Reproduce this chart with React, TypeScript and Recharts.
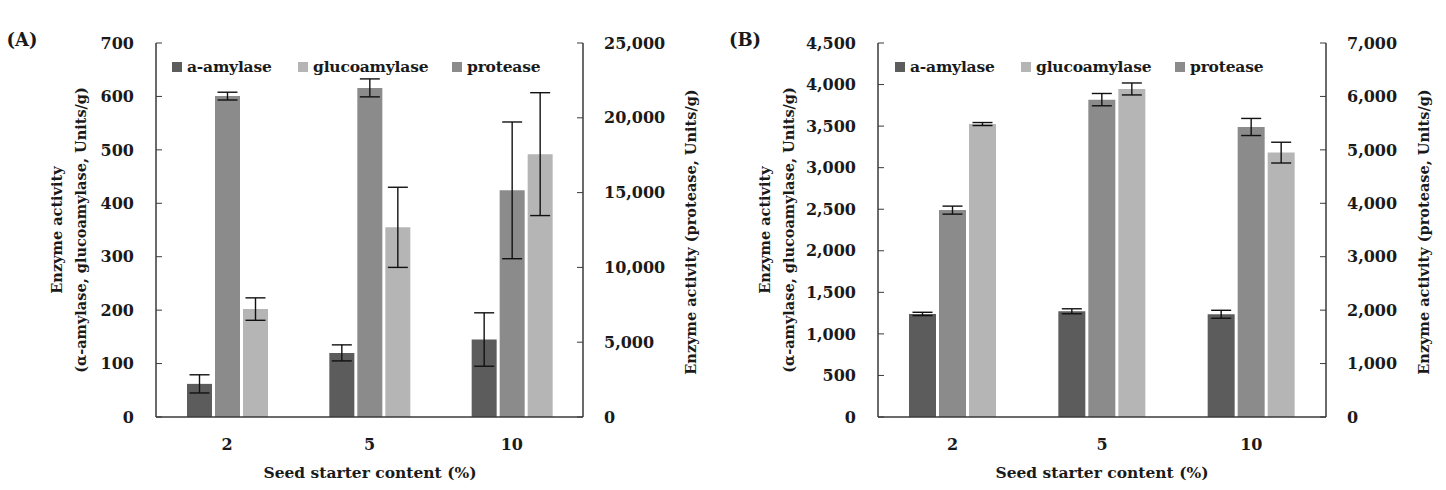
import { BarChart, Bar, XAxis, YAxis, ErrorBar, Legend } from "recharts";

// ─── Data ─────────────────────────────────────────────────────────────────────

const contents = ["2", "5", "10"];

// (A)
const amylaseA = [62, 120, 145];
const amylaseErrA = [17, 15, 50];
const glucoA = [202, 355, 492];
const glucoErrA = [21, 75, 115];
const proteaseA = [21450, 22000, 15150];
const proteaseErrA = [260, 600, 4570];

// (B)
const amylaseB = [1240, 1272, 1236];
const amylaseErrB = [20, 30, 48];
const glucoB = [3525, 3947, 3181];
const glucoErrB = [18, 72, 125];
const proteaseB = [3872, 5940, 5428];
const proteaseErrB = [75, 115, 160];

const leftTicksA = [0, 100, 200, 300, 400, 500, 600, 700];
const rightTicksA = [0, 5000, 10000, 15000, 20000, 25000];
const leftTicksB = [0, 500, 1000, 1500, 2000, 2500, 3000, 3500, 4000, 4500];
const rightTicksB = [0, 1000, 2000, 3000, 4000, 5000, 6000, 7000];

const DARK = "#5c5c5c";
const MID = "#8b8b8b";
const LIGHT = "#b5b5b5";
const AXIS = "#3a3a3a";
const FONT = "'DejaVu Serif', serif";

const legendItems = [
  { name: "a-amylase", color: DARK, width: 126 },
  { name: "glucoamylase", color: LIGHT, width: 154 },
  { name: "protease", color: MID, width: 100 },
];

function buildRows(
  amylase: number[], amylaseErr: number[],
  gluco: number[], glucoErr: number[],
  protease: number[], proteaseErr: number[],
) {
  return contents.map((c, i) => ({
    content: c,
    amylase: amylase[i],
    amylaseErr: amylaseErr[i],
    gluco: gluco[i],
    glucoErr: glucoErr[i],
    protease: protease[i],
    proteaseErr: proteaseErr[i],
  }));
}

const dataA = buildRows(amylaseA, amylaseErrA, glucoA, glucoErrA, proteaseA, proteaseErrA);
const dataB = buildRows(amylaseB, amylaseErrB, glucoB, glucoErrB, proteaseB, proteaseErrB);

const fmt = (v: number) => v.toLocaleString("en-US");

const tickStyle = { fill: "#1a1a1a", fontSize: 16, fontWeight: 700, fontFamily: FONT };

// ─── Legend ───────────────────────────────────────────────────────────────────

function LegendRow() {
  return (
    <div style={{ display: "flex", alignItems: "center", fontFamily: FONT, fontWeight: 700, fontSize: 15.5, color: "#1a1a1a", whiteSpace: "nowrap" }}>
      {legendItems.map((it) => (
        <div key={it.name} style={{ display: "flex", alignItems: "center", gap: 5, width: it.width }}>
          <span style={{ width: 10, height: 10, background: it.color, display: "inline-block" }} />
          <span style={{ letterSpacing: -0.2 }}>{it.name}</span>
        </div>
      ))}
    </div>
  );
}

// ─── One panel ────────────────────────────────────────────────────────────────

function Panel({
  data, width, marginLeft, marginRight, leftTicks, rightTicks, barSize, legendLeft,
}: {
  data: ReturnType<typeof buildRows>;
  width: number;
  marginLeft: number;
  marginRight: number;
  leftTicks: number[];
  rightTicks: number[];
  barSize: number;
  legendLeft: number;
}) {
  return (
    <BarChart
      width={width}
      height={490}
      data={data}
      margin={{ top: 43, right: marginRight, bottom: 43, left: marginLeft }}
      barSize={barSize}
      barGap={3}
    >
      <XAxis
        dataKey="content"
        height={30}
        tickSize={0}
        tickMargin={22}
        tickLine={false}
        axisLine={{ stroke: AXIS, strokeWidth: 1.5 }}
        tick={tickStyle}
      />
      <XAxis
        xAxisId="top"
        dataKey="content"
        orientation="top"
        height={0}
        tick={false}
        tickLine={false}
        axisLine={{ stroke: AXIS, strokeWidth: 1.5 }}
      />
      <YAxis
        yAxisId="left"
        width={70}
        domain={[leftTicks[0], leftTicks[leftTicks.length - 1]]}
        ticks={leftTicks}
        interval={0}
        tickFormatter={fmt}
        tickSize={-6}
        tickMargin={28}
        axisLine={{ stroke: AXIS, strokeWidth: 1.5 }}
        tickLine={{ stroke: AXIS }}
        tick={tickStyle}
      />
      <YAxis
        yAxisId="right"
        orientation="right"
        width={80}
        domain={[rightTicks[0], rightTicks[rightTicks.length - 1]]}
        ticks={rightTicks}
        interval={0}
        tickFormatter={fmt}
        tickSize={-6}
        tickMargin={27}
        axisLine={{ stroke: AXIS, strokeWidth: 1.5 }}
        tickLine={{ stroke: AXIS }}
        tick={tickStyle}
      />
      <Legend
        layout="vertical"
        align="center"
        verticalAlign="middle"
        wrapperStyle={{ top: 57, left: legendLeft, width: "auto" }}
        content={() => <LegendRow />}
      />
      <Bar dataKey="amylase" name="a-amylase" yAxisId="left" fill={DARK} isAnimationActive={false}>
        <ErrorBar dataKey="amylaseErr" width={10} stroke="#111" strokeWidth={1.4} />
      </Bar>
      <Bar dataKey="protease" name="protease" yAxisId="right" fill={MID} isAnimationActive={false}>
        <ErrorBar dataKey="proteaseErr" width={10} stroke="#111" strokeWidth={1.4} />
      </Bar>
      <Bar dataKey="gluco" name="glucoamylase" yAxisId="left" fill={LIGHT} isAnimationActive={false}>
        <ErrorBar dataKey="glucoErr" width={10} stroke="#111" strokeWidth={1.4} />
      </Bar>
    </BarChart>
  );
}

// ─── Text overlays ────────────────────────────────────────────────────────────

const textBase = {
  position: "absolute" as const,
  fontFamily: FONT,
  fontWeight: 700,
  color: "#1a1a1a",
  whiteSpace: "nowrap" as const,
};

function Rotated({ x, y, lines, size }: { x: number; y: number; lines: string[]; size: number }) {
  return (
    <div
      style={{
        ...textBase,
        left: x,
        top: y,
        fontSize: size,
        lineHeight: "24px",
        textAlign: "center",
        transform: "translate(-50%, -50%) rotate(-90deg)",
      }}
    >
      {lines.map((l) => (
        <div key={l}>{l}</div>
      ))}
    </div>
  );
}

function Centered({ x, y, text, size }: { x: number; y: number; text: string; size: number }) {
  return (
    <div style={{ ...textBase, left: x, top: y, fontSize: size, transform: "translate(-50%, -50%)" }}>
      {text}
    </div>
  );
}

export default function App() {
  return (
    <div style={{ position: "absolute", left: 0, top: 0, width: 1446, height: 490, background: "#fff", overflow: "hidden" }}>
      <div style={{ position: "absolute", left: 0, top: 0 }}>
        <Panel
          data={dataA}
          width={720}
          marginLeft={86}
          marginRight={57}
          leftTicks={leftTicksA}
          rightTicks={rightTicksA}
          barSize={25}
          legendLeft={172}
        />
      </div>
      <div style={{ position: "absolute", left: 720, top: 0 }}>
        <Panel
          data={dataB}
          width={726}
          marginLeft={88}
          marginRight={40}
          leftTicks={leftTicksB}
          rightTicks={rightTicksB}
          barSize={27}
          legendLeft={175}
        />
      </div>

      <Centered x={22} y={39} text="(A)" size={18} />
      <Centered x={745} y={39} text="(B)" size={18} />

      <Rotated x={69} y={230} lines={["Enzyme activity", "(α-amylase, glucoamylase, Units/g)"]} size={14.5} />
      <Rotated x={777} y={230} lines={["Enzyme activity", "(α-amylase, glucoamylase, Units/g)"]} size={14.5} />
      <Rotated x={691} y={232} lines={["Enzyme activity (protease, Units/g)"]} size={14.5} />
      <Rotated x={1424} y={232} lines={["Enzyme activity (protease, Units/g)"]} size={14.5} />

      <Centered x={370} y={472} text="Seed starter content (%)" size={15.5} />
      <Centered x={1102} y={472} text="Seed starter content (%)" size={15.5} />
    </div>
  );
}
